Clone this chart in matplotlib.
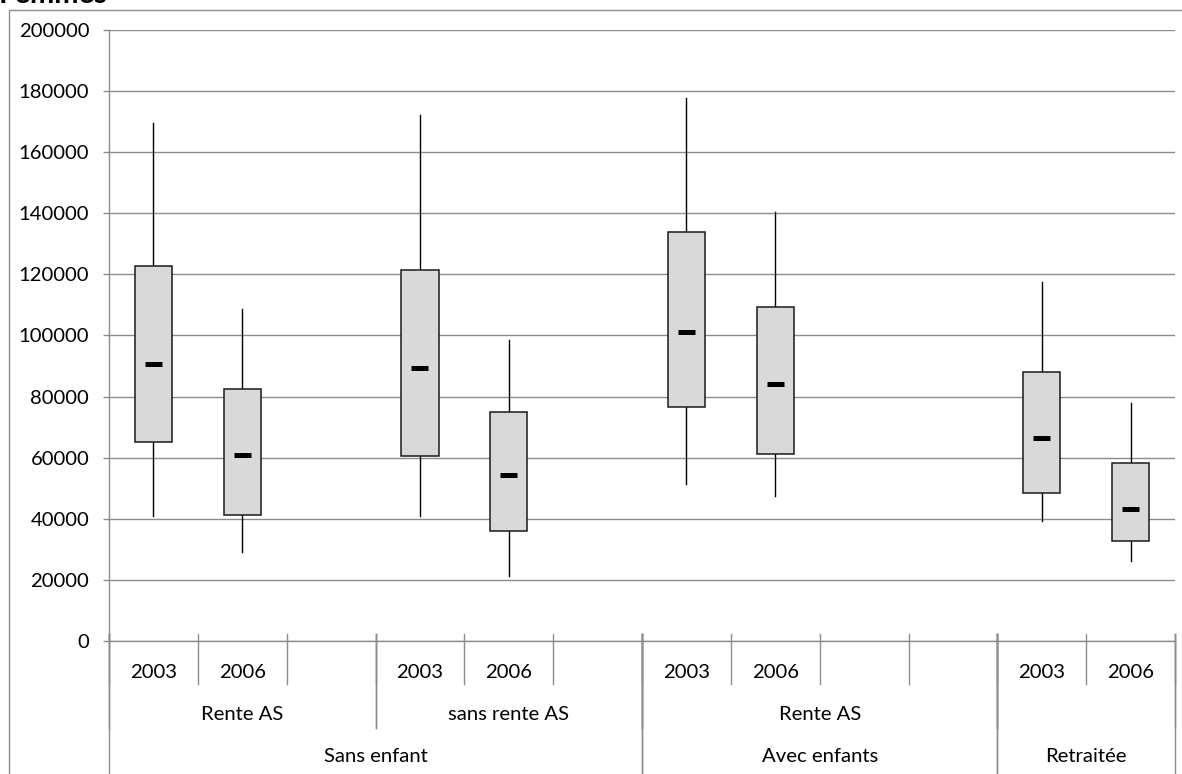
import matplotlib
matplotlib.use("Agg")
import matplotlib.pyplot as plt
from matplotlib.patches import Rectangle
from matplotlib.lines import Line2D
import numpy as np

plt.rcParams['font.family'] = ['Lato', 'DejaVu Sans']

# ---- data (12 category slots; None = empty slot) ----
years = ["2003", "2006", "", "2003", "2006", "", "2003", "2006", "", "", "2003", "2006"]
level2 = [("Rente AS", 0, 3), ("sans rente AS", 3, 6), ("Rente AS", 6, 10), ("", 10, 12)]
level3 = [("Sans enfant", 0, 6), ("Avec enfants", 6, 10), ("Retraitée", 10, 12)]

whisk_hi = [169700, 108600, None, 172100, 98600, None, 177700, 140500, None, None, 117500, 78000]
box_hi   = [122700,  82500, None, 121600, 74900, None, 133800, 109400, None, None,  88000, 58300]
median   = [ 90600,  60900, None,  89500, 54300, None, 101200,  84000, None, None,  66600, 43100]
box_lo   = [ 65300,  41400, None,  60400, 35900, None,  76600,  61100, None, None,  48400, 32600]
whisk_lo = [ 41000,  29100, None,  41000, 21300, None,  51300,  47300, None, None,  39400, 26300]

FS = 14.6
W, H = 1182, 774
fig = plt.figure(figsize=(W / 100, H / 100), dpi=100)
ax_left, ax_right, ax_top, ax_bot = 109, 1175, 30, 641
ax = fig.add_axes([ax_left / W, 1 - ax_bot / H, (ax_right - ax_left) / W, (ax_bot - ax_top) / H])

n = len(years)
ax.set_xlim(0, n)
ax.set_ylim(0, 200000)

grid_c = "#8c8c8c"
ax.set_yticks(np.arange(0, 200001, 20000))
ax.set_yticklabels([str(v) for v in range(0, 200001, 20000)], fontsize=FS, color="#000000")
ax.yaxis.grid(True, color=grid_c, linewidth=1.0)
ax.set_axisbelow(True)
ax.tick_params(axis='y', length=4.3, width=1.0, color=grid_c, pad=10)
ax.set_xticks([])
for s in ["top", "right"]:
    ax.spines[s].set_visible(False)
ax.spines["left"].set_color(grid_c)
ax.spines["bottom"].set_color(grid_c)
ax.spines["left"].set_linewidth(1.0)
ax.spines["bottom"].set_linewidth(1.0)

box_w = 0.42
for i in range(n):
    if median[i] is None:
        continue
    c = i + 0.5
    ax.plot([c, c], [box_hi[i], whisk_hi[i]], color="#000000", lw=1.0, zorder=3)
    ax.plot([c, c], [whisk_lo[i], box_lo[i]], color="#000000", lw=1.0, zorder=3)
    ax.add_patch(Rectangle((c - box_w / 2, box_lo[i]), box_w, box_hi[i] - box_lo[i],
                           facecolor="#d9d9d9", edgecolor="#1a1a1a", lw=1.1, zorder=4))
    ax.plot([c - 0.095, c + 0.095], [median[i], median[i]], color="#000000",
            lw=3.6, solid_capstyle="butt", zorder=5)

# ---- multi-level category axis ----
trans = ax.get_xaxis_transform()
def yf(py):
    return (ax_bot - py) / (ax_bot - ax_top)

tick_top = yf(634)
for i in range(n + 1):
    ax.add_line(Line2D([i, i], [tick_top, yf(684)], transform=trans, color=grid_c, lw=1.0, clip_on=False))
for i, y in enumerate(years):
    if y:
        ax.text(i + 0.5, yf(672), y, transform=trans, ha="center", va="center", fontsize=FS)
for lab, a, b in level2:
    for xb in (a, b):
        ax.add_line(Line2D([xb, xb], [tick_top, yf(728)], transform=trans, color=grid_c, lw=1.0, clip_on=False))
    if lab:
        ax.text((a + b) / 2, yf(715), lab, transform=trans, ha="center", va="center", fontsize=FS)
for lab, a, b in level3:
    for xb in (a, b):
        ax.add_line(Line2D([xb, xb], [tick_top, yf(790)], transform=trans, color=grid_c, lw=1.0, clip_on=False))
    ax.text((a + b) / 2, yf(757), lab, transform=trans, ha="center", va="center", fontsize=FS)

# ---- chart border and title ----
fig.add_artist(Rectangle((9.5 / W, -0.1), 1.2, (H - 9.5) / H + 0.1, transform=fig.transFigure,
                         fill=False, edgecolor=grid_c, lw=1.0))
fig.text(-1 / W, 1 - 3 / H, "Femmes", fontsize=21, fontweight="bold", ha="left", va="baseline")

fig.savefig("out.png", dpi=100)
